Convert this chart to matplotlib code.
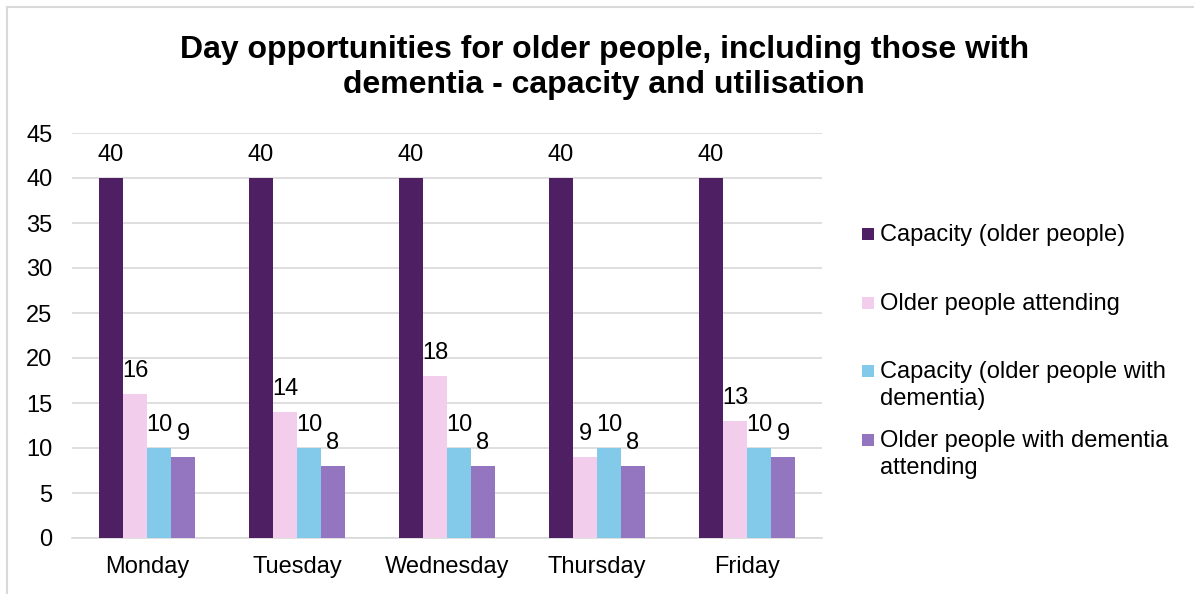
import numpy as np
import matplotlib.pyplot as plt
from matplotlib.patches import Rectangle
from matplotlib.lines import Line2D

plt.rcParams['font.family'] = ['Liberation Sans', 'DejaVu Sans']

days = ['Monday', 'Tuesday', 'Wednesday', 'Thursday', 'Friday']
capacity_older = [40, 40, 40, 40, 40]
older_attending = [16, 14, 18, 9, 13]
capacity_dementia = [10, 10, 10, 10, 10]
dementia_attending = [9, 8, 8, 8, 9]

series = [
    ('Capacity (older people)', capacity_older, '#4F1F63'),
    ('Older people attending', older_attending, '#F2CDEC'),
    ('Capacity (older people with\ndementia)', capacity_dementia, '#83CAEA'),
    ('Older people with dementia\nattending', dementia_attending, '#9475BF'),
]

W, H = 1194, 594
fig = plt.figure(figsize=(W / 100, H / 100), dpi=100)
ax = fig.add_axes([72 / W, 1 - 538 / H, 750 / W, 405 / H])

x = np.arange(len(days))
w = 0.16
for i, (name, vals, col) in enumerate(series):
    pos = x + (i - 1.5) * w
    bars = ax.bar(pos, vals, width=w, color=col, label=name, zorder=3)
    for b, v in zip(bars, vals):
        ax.annotate(str(v), (b.get_x() + b.get_width() / 2, v),
                    xytext=(0, 12), textcoords='offset points',
                    ha='center', va='baseline', fontsize=17, color='#000000')

ax.set_xlim(-0.5, len(days) - 0.5)
ax.set_ylim(0, 45)
ax.set_yticks(np.arange(0, 46, 5))
ax.set_xticks(x)
ax.set_xticklabels(days)
ax.tick_params(axis='both', length=0, labelsize=17, colors='#000000')
ax.tick_params(axis='y', pad=14)
ax.tick_params(axis='x', pad=13)
ax.grid(axis='y', color='#D9D9D9', linewidth=1.2, zorder=0)
for s in ['top', 'right', 'left']:
    ax.spines[s].set_visible(False)
ax.spines['bottom'].set_color('#D9D9D9')
ax.spines['bottom'].set_linewidth(1.2)

# legend entries: colour square beside the first line of each label
baselines = [241, 310, 378, 447]
line_step = 27
for (name, vals, col), yb in zip(series, baselines):
    fig.patches.append(Rectangle((862 / W, 1 - (yb - 1) / H), 12 / W, 12 / H,
                                 transform=fig.transFigure, facecolor=col,
                                 edgecolor='none'))
    # baseline alignment uses the last line, so push multi-line labels down
    n_extra = name.count('\n')
    fig.text(880 / W, 1 - (yb + n_extra * line_step) / H, name, ha='left',
             va='baseline', fontsize=17, linespacing=1.3)

fig.text(0.506, 1 - 67.5 / H, 'Day opportunities for older people, including those with\n'
         'dementia - capacity and utilisation', ha='center', va='center',
         fontsize=23, fontweight='bold', linespacing=1.25)

# chart frame: top and left edges
fig.lines.append(Line2D([7 / W, 7 / W], [0, 1 - 6.5 / H], transform=fig.transFigure,
                        color='#D9D9D9', linewidth=1.5))
fig.lines.append(Line2D([7 / W, 1193 / W], [1 - 6.5 / H, 1 - 6.5 / H],
                        transform=fig.transFigure, color='#D9D9D9', linewidth=1.5))

fig.savefig('out.png', dpi=100)
